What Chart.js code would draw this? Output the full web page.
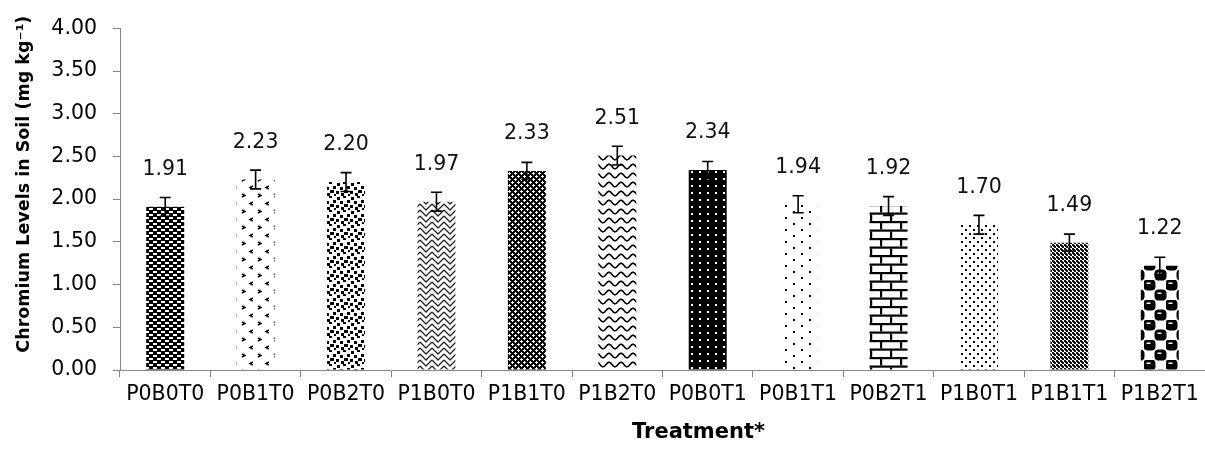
<!DOCTYPE html>
<html>
<head>
<meta charset="utf-8">
<script src="https://cdn.jsdelivr.net/npm/chart.js@4.4.0/dist/chart.umd.min.js"></script>
<style>
  html, body { margin: 0; padding: 0; background: #ffffff; }
  #wrap { width: 1205px; height: 450px; }
</style>
</head>
<body>
<div id="wrap"><canvas id="chart" width="1205" height="450"></canvas></div>
<script>
// Treatments and measured chromium levels (mg/kg) with their error margins
const treatments = ['P0B0T0', 'P0B1T0', 'P0B2T0', 'P1B0T0', 'P1B1T0', 'P1B2T0',
                    'P0B0T1', 'P0B1T1', 'P0B2T1', 'P1B0T1', 'P1B1T1', 'P1B2T1'];
const chromium = [1.91, 2.23, 2.20, 1.97, 2.33, 2.51, 2.34, 1.94, 1.92, 1.70, 1.49, 1.22];
const errorMargins = [0.11, 0.11, 0.11, 0.11, 0.10, 0.11, 0.10, 0.10, 0.11, 0.11, 0.10, 0.10];
const yTickValues = [0, 0.5, 1, 1.5, 2, 2.5, 3, 3.5, 4];
const yAxisTitle = 'Chromium Levels in Soil (mg kg\u207B\u00B9)';
const xAxisTitle = 'Treatment*';

const FONT = "'DejaVu Sans', 'Liberation Sans', sans-serif";
const TEXT_SIZE = 20.5;
const AXIS_GREY = '#868686';

// ---- monochrome fill patterns, one per treatment ----
function tile(w, h, bg, draw) {
  const c = document.createElement('canvas');
  c.width = w; c.height = h;
  const g = c.getContext('2d');
  g.fillStyle = bg; g.fillRect(0, 0, w, h);
  g.fillStyle = '#000'; g.strokeStyle = '#000';
  draw(g);
  return document.getElementById('chart').getContext('2d').createPattern(c, 'repeat');
}

const fills = [
  // dark with short white dashes
  tile(8, 6, '#000', g => {
    g.fillStyle = '#fff';
    g.fillRect(1, 1, 4, 2); g.fillRect(5, 4, 3, 2); g.fillRect(0, 4, 1, 2);
  }),
  // divot
  tile(16, 16, '#fff', g => {
    g.lineWidth = 1.5;
    g.beginPath();
    g.moveTo(2, 2); g.lineTo(4.8, 3.6); g.lineTo(2, 5.2);
    g.moveTo(12.8, 10); g.lineTo(10, 11.6); g.lineTo(12.8, 13.2);
    g.stroke();
  }),
  // large confetti
  tile(14, 14, '#fff', g => {
    [[1, 1, 3, 3], [7, 0, 3, 2], [11, 4, 3, 3], [4, 5, 3, 3], [0, 9, 3, 3],
     [8, 8, 4, 3], [5, 11, 3, 3], [12, 12, 2, 2]]
      .forEach(([x, y, w, h]) => g.fillRect(x, y, w, h));
  }),
  // zig zag
  tile(12, 6, '#fff', g => {
    g.lineWidth = 1.3; g.strokeStyle = '#222';
    g.beginPath();
    for (let k = -1; k <= 1; k++) {
      g.moveTo(0, k * 6); g.lineTo(6, k * 6 + 6); g.lineTo(12, k * 6);
    }
    g.stroke();
  }),
  // dark trellis with white crosses
  tile(6, 6, '#000', g => {
    g.fillStyle = '#fff';
    g.fillRect(2, 1, 1, 3); g.fillRect(1, 2, 3, 1);
    g.fillRect(5, 4, 1, 2); g.fillRect(5, 0, 1, 1);
    g.fillRect(4, 5, 2, 1); g.fillRect(0, 5, 1, 1);
  }),
  // wave
  tile(12, 9, '#fff', g => {
    g.lineWidth = 1.6;
    g.beginPath();
    for (let x = -1; x <= 13; x += 0.5) {
      const y = 4.5 + 2.2 * Math.sin((x / 12) * 2 * Math.PI);
      if (x === -1) g.moveTo(x, y); else g.lineTo(x, y);
    }
    g.stroke();
  }),
  // dark with white dots
  tile(8, 7, '#000', g => { g.fillStyle = '#fff'; g.fillRect(3, 3, 2, 2); }),
  // sparse dots
  tile(16, 12, '#fff', g => { g.fillRect(1, 1, 2, 2); g.fillRect(9, 7, 2, 2); }),
  // horizontal brick
  tile(20, 17, '#fff', g => {
    g.fillRect(0, 0, 20, 2.2); g.fillRect(0, 8.5, 20, 2.2);
    g.fillRect(0, 2, 2.2, 6.5); g.fillRect(10, 10.5, 2.2, 6.5);
  }),
  // denser dots
  tile(8, 8, '#fff', g => { g.fillRect(1, 1, 2, 2); g.fillRect(5, 5, 2, 2); }),
  // small checkerboard
  tile(4, 4, '#fff', g => {
    g.fillStyle = '#111';
    g.fillRect(0, 0, 2, 2); g.fillRect(2, 2, 2, 2); g.fillRect(1, 1, 2, 2);
  }),
  // sphere
  tile(22, 20, '#fff', g => {
    const blob = (x, y) => {
      g.fillStyle = '#000';
      g.beginPath(); g.roundRect(x, y, 12, 11, 4); g.fill();
      g.fillStyle = '#fff';
      g.fillRect(x + 3, y + 3, 4, 1.5);
    };
    blob(-0.5, -0.5); blob(10.5, 9.5); blob(-11.5, 9.5); blob(10.5, -10.5);
  })
];

// ---- error bars drawn from the scale ----
const errorBarPlugin = {
  id: 'errorBars',
  afterDatasetsDraw(chart) {
    const { ctx } = chart;
    const y = chart.scales.y;
    const meta = chart.getDatasetMeta(0);
    ctx.save();
    ctx.strokeStyle = '#000';
    ctx.lineWidth = 1.6;
    meta.data.forEach((bar, i) => {
      const hi = y.getPixelForValue(chromium[i] + errorMargins[i]);
      const lo = y.getPixelForValue(chromium[i] - errorMargins[i]);
      ctx.beginPath();
      ctx.moveTo(bar.x, hi); ctx.lineTo(bar.x, lo);
      ctx.moveTo(bar.x - 5.5, hi); ctx.lineTo(bar.x + 5.5, hi);
      ctx.moveTo(bar.x - 5.5, lo); ctx.lineTo(bar.x + 5.5, lo);
      ctx.stroke();
    });
    ctx.restore();
  }
};

// ---- value labels above each bar ----
const valueLabelPlugin = {
  id: 'valueLabels',
  afterDatasetsDraw(chart) {
    const { ctx } = chart;
    const meta = chart.getDatasetMeta(0);
    ctx.save();
    ctx.fillStyle = '#111';
    ctx.font = `${TEXT_SIZE}px ${FONT}`;
    ctx.textAlign = 'center';
    ctx.textBaseline = 'middle';
    meta.data.forEach((bar, i) => {
      ctx.fillText(chromium[i].toFixed(2), bar.x, bar.y - 37);
    });
    ctx.restore();
  }
};

// ---- axis titles ----
const axisTitlePlugin = {
  id: 'axisTitles',
  afterDraw(chart) {
    const { ctx, chartArea } = chart;
    ctx.save();
    ctx.fillStyle = '#000';
    ctx.textAlign = 'center';
    ctx.textBaseline = 'middle';
    // vertical title
    ctx.save();
    ctx.translate(24, (chartArea.top + chartArea.bottom) / 2 - 15);
    ctx.rotate(-Math.PI / 2);
    ctx.font = `bold 17.5px ${FONT}`;
    ctx.fillText(yAxisTitle, 0, 0);
    ctx.restore();
    // horizontal title
    ctx.font = `bold 21px ${FONT}`;
    ctx.fillText(xAxisTitle, (chartArea.left + chartArea.right) / 2 + 36, 433);
    ctx.restore();
  }
};

new Chart(document.getElementById('chart'), {
  type: 'bar',
  data: {
    labels: treatments,
    datasets: [{
      data: chromium,
      backgroundColor: fills,
      borderWidth: 0,
      categoryPercentage: 1,
      barPercentage: 0.42
    }]
  },
  options: {
    responsive: false,
    animation: false,
    devicePixelRatio: 1,
    layout: { padding: { top: 25, right: 0, bottom: 2, left: 0 } },
    plugins: { legend: { display: false }, tooltip: { enabled: false } },
    scales: {
      x: {
        grid: { offset: true, drawOnChartArea: false, drawTicks: true, tickLength: 7, color: AXIS_GREY },
        border: { display: true, color: AXIS_GREY },
        ticks: { color: '#000', font: { family: FONT, size: TEXT_SIZE }, padding: 5, maxRotation: 0, autoSkip: false },
        afterFit(scale) { scale.height = 78; }
      },
      y: {
        min: 0, max: 4,
        afterBuildTicks(scale) { scale.ticks = yTickValues.map(v => ({ value: v })); },
        ticks: { color: '#000', font: { family: FONT, size: TEXT_SIZE }, padding: 16, callback: v => Number(v).toFixed(2) },
        grid: { drawOnChartArea: false, drawTicks: true, tickLength: 7, color: AXIS_GREY },
        border: { display: true, color: AXIS_GREY },
        afterFit(scale) { scale.width = 120; }
      }
    }
  },
  plugins: [errorBarPlugin, valueLabelPlugin, axisTitlePlugin]
});
</script>
</body>
</html>
